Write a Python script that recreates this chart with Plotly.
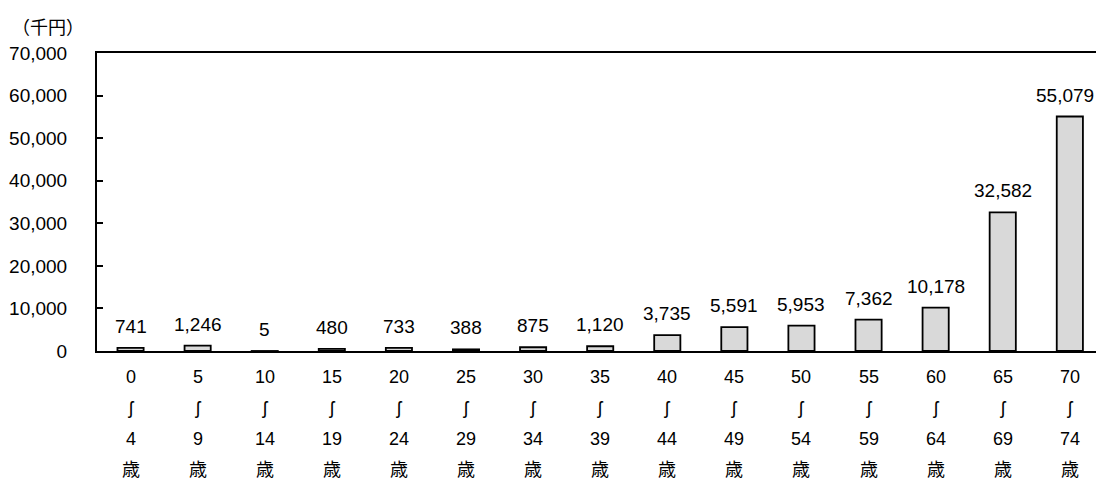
import plotly.graph_objects as go

age_from = ["0", "5", "10", "15", "20", "25", "30", "35", "40", "45", "50", "55", "60", "65", "70"]
age_to = ["4", "9", "14", "19", "24", "29", "34", "39", "44", "49", "54", "59", "64", "69", "74"]
values = [741, 1246, 5, 480, 733, 388, 875, 1120, 3735, 5591, 5953, 7362, 10178, 32582, 55079]
unit_label = "（千円）"
sep_char = "ʃ"
age_suffix = "歳"
categories = [f"{a}-{b}" for a, b in zip(age_from, age_to)]

FONT = "Liberation Sans, Arial, Noto Sans CJK JP, sans-serif"

fig = go.Figure()
fig.add_trace(go.Bar(
    x=categories, y=values, width=0.39,
    marker=dict(color="#d9d9d9", line=dict(color="black", width=1.8)),
    showlegend=False, hoverinfo="skip",
))

annotations = []
n = len(categories)
for idx, (c, v) in enumerate(zip(categories, values)):
    last = idx == n - 1
    annotations.append(dict(x=c, y=v, xref="x", yref="y", text=f"{v:,}",
                            showarrow=False, yanchor="bottom", yshift=9,
                            xanchor="right" if last else "center",
                            xshift=26 if last else 0,
                            font=dict(size=19, color="black", family=FONT)))
for c, a, b in zip(categories, age_from, age_to):
    for i, t in enumerate([a, sep_char, b, age_suffix]):
        annotations.append(dict(x=c, y=0, xref="x", yref="paper", text=t,
                                showarrow=False, yanchor="middle",
                                yshift=-26 - 31 * i,
                                font=dict(size=18, color="black", family=FONT)))
annotations.append(dict(x=0, y=1, xref="paper", yref="paper", xanchor="left",
                        yanchor="middle", xshift=-87, yshift=27, text=unit_label,
                        showarrow=False,
                        font=dict(size=18, color="black", family="Noto Sans CJK JP")))

fig.update_layout(
    width=1096, height=482,
    margin=dict(l=97, r=0, t=53, b=131),
    plot_bgcolor="white", paper_bgcolor="white",
    annotations=annotations,
    font=dict(family=FONT, size=19, color="black"),
)
fig.update_xaxes(
    type="category", range=[-0.5, 14.39],
    showticklabels=False, ticks="",
    showline=True, linecolor="black", linewidth=2, mirror=True,
    showgrid=False, zeroline=False,
)
fig.update_yaxes(
    range=[0, 70000], dtick=10000, tickformat=",d",
    showline=True, linecolor="black", linewidth=2,
    ticks="inside", ticklen=6, tickwidth=1.5, tickcolor="black",
    ticklabelstandoff=24,
    showgrid=False, zeroline=False,
    tickfont=dict(size=19, family=FONT, color="black"),
)
fig.write_html("out.html", config={"displayModeBar": False},
               post_script="document.body.style.margin='0';")
